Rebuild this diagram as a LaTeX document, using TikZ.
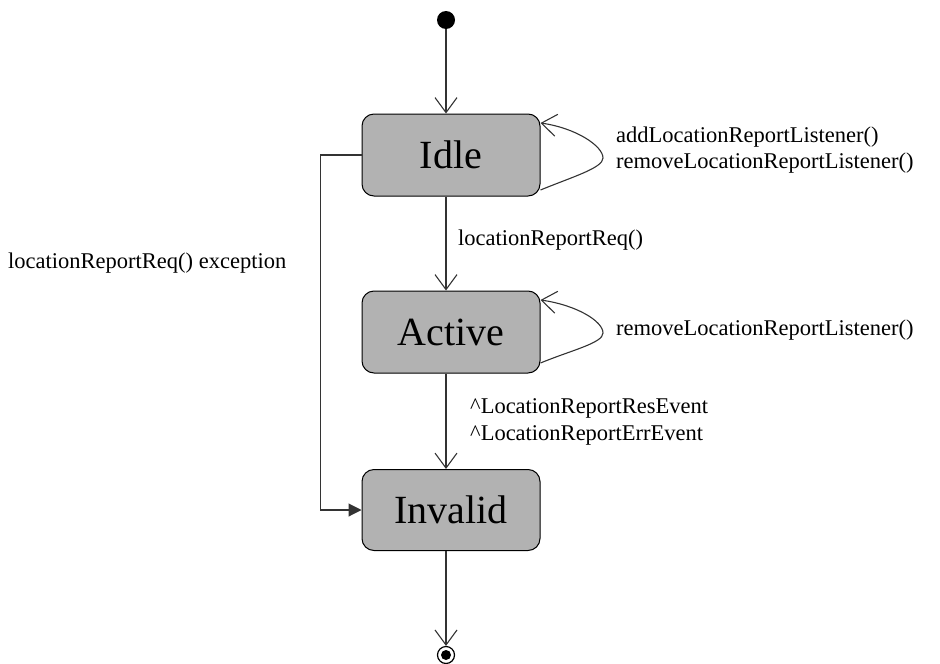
\documentclass[tikz,border=0pt]{standalone}
\usepackage{fontspec}
\setmainfont{Liberation Serif}
\usetikzlibrary{arrows.meta,calc}
\begin{document}
\begin{tikzpicture}[x=1pt,y=-1pt,
  statebox/.style={draw=black,line width=1pt,fill=black!30,rounded corners=12pt,
    minimum width=178pt,inner sep=0pt,font=\fontsize{40}{44}\selectfont},
  conn/.style={line width=1.1pt,draw=black!80},
  open/.style={-{Straight Barb[length=15pt,width=22pt,line width=1.1pt]}},
  lbl/.style={font=\fontsize{22.5}{26.5}\selectfont,inner sep=0pt,align=left,anchor=west}]
\useasboundingbox (0,0) rectangle (940,664);
\node[circle,fill=black,minimum size=18pt,inner sep=0pt] (init) at (446,20) {};
\node[statebox,minimum height=82pt] (idle) at (451,155) {Idle};
\node[statebox,minimum height=82pt] (active) at (451,332) {Active};
\node[statebox,minimum height=81pt] (invalid) at (451,510) {Invalid};
\node[circle,draw=black,line width=1.2pt,minimum size=17pt,inner sep=0pt] (final) at (446,655) {};
\node[circle,fill=black,minimum size=10pt,inner sep=0pt] at (final) {};
% vertical transitions
\draw[conn,open] (init) -- (init |- idle.north);
\draw[conn,open] (idle.south -| init) -- (active.north -| init);
\draw[conn,open] (active.south -| init) -- (invalid.north -| init);
\draw[conn,open] (invalid.south -| init) -- (final);
% exception path
\draw[conn,-{Triangle[length=13pt,width=13pt]}] (idle.west) -- ++(-41,0) |- (invalid.west);
% self loops
\draw[conn,open] ($(idle.east)+(0,35)$) .. controls (572,177) and (603,168) .. (603,158)
  .. controls (603,146) and (576,128) .. ($(idle.east)+(0,-32)$);
\draw[conn,open] ($(active.east)+(0,31)$) .. controls (572,350) and (603,343) .. (603,333)
  .. controls (603,321) and (576,305) .. ($(active.east)+(0,-32)$);
% labels
\node[lbl] (l1) at (616,150) {addLocationReportListener()\\removeLocationReportListener()};
\node[lbl] (l2) at (616,330) {removeLocationReportListener()};
\node[lbl] (l3) at (458,240) {locationReportReq()};
\node[lbl] (l4) at (470,422) {\textasciicircum LocationReportResEvent\\\textasciicircum LocationReportErrEvent};
\node[lbl] (l5) at (8,263) {locationReportReq() exception};
\end{tikzpicture}
\end{document}
